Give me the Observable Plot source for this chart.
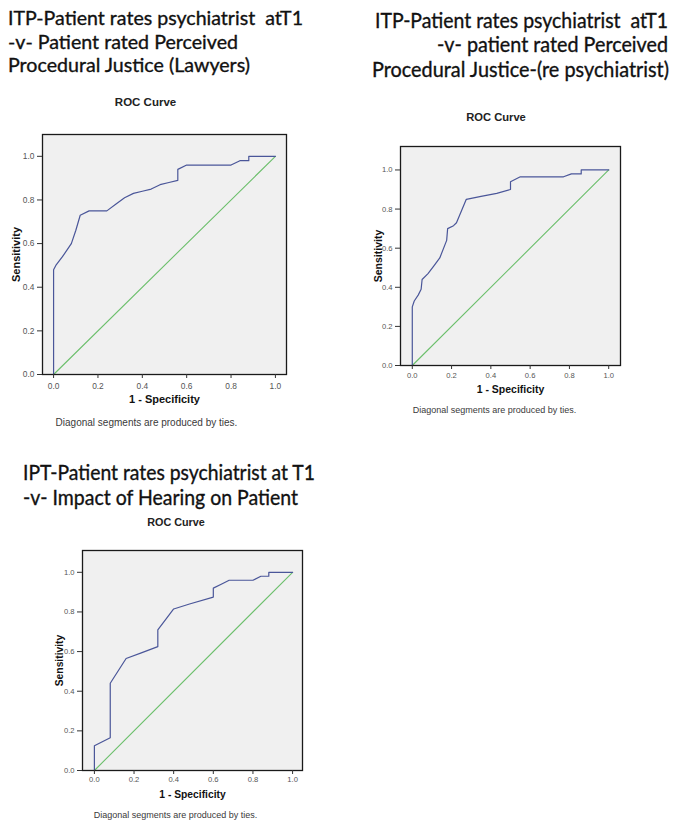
<!DOCTYPE html>
<html>
<head>
<meta charset="utf-8">
<script src="https://cdn.jsdelivr.net/npm/d3@7"></script>
<script src="https://cdn.jsdelivr.net/npm/@observablehq/plot@0.6"></script>
<style>
  html, body { margin: 0; padding: 0; background: #fff; }
  #page { position: relative; width: 685px; height: 840px; overflow: hidden; background: #fff; }
  .tl { position: absolute; white-space: pre; font-family: Lato, "Open Sans", sans-serif; line-height: 1; color: #111; transform-origin: 0 0; -webkit-text-stroke: 0.35px #111; }
  .lbl { position: absolute; white-space: pre; font-family: "Liberation Sans", Arial, sans-serif; line-height: 1; transform: translate(-50%, -50%); }
  .roc { font-weight: bold; color: #222; }
  .cap { color: #3a3a3a; }
  .panel { position: absolute; }
  .panel svg { overflow: visible; }
  g[aria-label="x-axis tick label"], g[aria-label="y-axis tick label"] { fill: #555; }
  g[aria-label="x-axis label"], g[aria-label="y-axis label"] { font-weight: bold; fill: #111; }
  g[aria-label="x-axis tick"], g[aria-label="y-axis tick"] { stroke: #333; }
</style>
</head>
<body>
<div id="page"></div>
<script>
// ---------- data ----------
const xTicks = [0, 0.2, 0.4, 0.6, 0.8, 1.0];
const yTicks = [0, 0.2, 0.4, 0.6, 0.8, 1.0];
const chanceX = [0, 1];
const chanceY = [0, 1];

// Panel 1: ITP vs Perceived Procedural Justice (Lawyers)
const p1Fpr = [0, 0, 0.01, 0.04, 0.08, 0.10, 0.12, 0.16, 0.24, 0.28, 0.32, 0.36, 0.40, 0.44, 0.48, 0.52, 0.56, 0.56, 0.60, 0.80, 0.84, 0.88, 0.88, 1.0];
const p1Tpr = [0, 0.48, 0.50, 0.54, 0.60, 0.66, 0.73, 0.75, 0.75, 0.78, 0.81, 0.83, 0.84, 0.85, 0.87, 0.88, 0.89, 0.94, 0.96, 0.96, 0.98, 0.98, 1.0, 1.0];

// Panel 2: ITP vs Perceived Procedural Justice (re psychiatrist)
const p2Fpr = [0, 0, 0.01, 0.03, 0.045, 0.05, 0.08, 0.11, 0.14, 0.175, 0.18, 0.21, 0.225, 0.275, 0.35, 0.43, 0.50, 0.50, 0.55, 0.77, 0.81, 0.86, 0.86, 1.0];
const p2Tpr = [0, 0.30, 0.33, 0.36, 0.39, 0.44, 0.47, 0.51, 0.55, 0.64, 0.70, 0.715, 0.73, 0.85, 0.865, 0.88, 0.90, 0.94, 0.965, 0.965, 0.98, 0.98, 1.0, 1.0];

// Panel 3: IPT vs Impact of Hearing on Patient
const p3Fpr = [0, 0, 0.08, 0.08, 0.16, 0.24, 0.32, 0.32, 0.40, 0.48, 0.60, 0.60, 0.64, 0.68, 0.80, 0.84, 0.88, 0.88, 1.0];
const p3Tpr = [0, 0.125, 0.165, 0.44, 0.565, 0.595, 0.625, 0.71, 0.815, 0.84, 0.875, 0.92, 0.94, 0.96, 0.96, 0.98, 0.98, 1.0, 1.0];

// texts
const p1Title = ["ITP-Patient rates psychiatrist  atT1", "-v- Patient rated Perceived", "Procedural Justice (Lawyers)"];
const p2Title = ["ITP-Patient rates psychiatrist  atT1", "-v- patient rated Perceived", "Procedural Justice-(re psychiatrist)"];
const p3Title = ["IPT-Patient rates psychiatrist at T1", "-v- Impact of Hearing on Patient"];
const chartTitle = "ROC Curve";
const captionText = "Diagonal segments are produced by ties.";
const xLabel = "1 - Specificity";
const yLabel = "Sensitivity";

// ---------- layout ----------
const page = document.getElementById("page");

function addTitleLine(text, left, right, base, fs) {
  const d = document.createElement("div");
  d.className = "tl";
  d.textContent = text;
  d.style.fontSize = fs + "px";
  d.style.left = left + "px";
  d.style.top = (base - 0.89 * fs) + "px";
  page.appendChild(d);
  const w = d.getBoundingClientRect().width;
  d.style.transform = `scaleX(${(right - left) / w})`;
}

function addLabel(text, cls, cx, cy, fs) {
  const d = document.createElement("div");
  d.className = "lbl " + cls;
  d.textContent = text;
  d.style.fontSize = fs + "px";
  d.style.left = cx + "px";
  d.style.top = cy + "px";
  page.appendChild(d);
}

function rocPanel(o) {
  const curve = o.fpr.map((x, i) => ({x, y: o.tpr[i]}));
  const chance = chanceX.map((x, i) => ({x, y: chanceY[i]}));
  const chart = Plot.plot({
    width: o.width, height: o.height,
    marginLeft: o.ml, marginRight: o.mr, marginTop: o.mt, marginBottom: o.mb,
    style: {fontFamily: "'Liberation Sans', Arial, sans-serif", fontSize: o.tickFs + "px", background: "transparent"},
    x: {domain: o.xDomain},
    y: {domain: o.yDomain},
    marks: [
      Plot.frame({fill: "#f0f0f0", stroke: "none"}),
      Plot.line(chance, {x: "x", y: "y", stroke: "#6cbf6c", strokeWidth: 1.1}),
      Plot.line(curve, {x: "x", y: "y", stroke: "#4a5699", strokeWidth: 1.2}),
      Plot.frame({stroke: "#1a1a1a", strokeWidth: 1.3}),
      Plot.axisX({ticks: xTicks, tickFormat: d3.format(".1f"), tickSize: 4, tickPadding: o.xPad,
        label: xLabel, labelAnchor: "center", labelOffset: o.xLabelOffset, labelArrow: "none", fontSize: o.tickFs}),
      Plot.axisY({ticks: yTicks, tickFormat: d3.format(".1f"), tickSize: 5, tickPadding: 3,
        label: yLabel, labelAnchor: "center", labelOffset: o.yLabelOffset, labelArrow: "none", fontSize: o.tickFs})
    ]
  });
  chart.querySelectorAll('g[aria-label="x-axis label"], g[aria-label="y-axis label"]').forEach(g => {
    g.setAttribute("font-size", o.labelFs);
    g.querySelectorAll("text").forEach(t => t.setAttribute("font-size", o.labelFs));
  });
  const wrap = document.createElement("div");
  wrap.className = "panel";
  wrap.style.left = o.left + "px";
  wrap.style.top = o.top + "px";
  wrap.appendChild(chart);
  page.appendChild(wrap);
}

// Panel 1
addTitleLine(p1Title[0], 8, 303, 25, 20);
addTitleLine(p1Title[1], 8, 238, 48.5, 20);
addTitleLine(p1Title[2], 8, 250, 72, 20);
addLabel(chartTitle, "roc", 145.5, 102.5, 11.5);
rocPanel({fpr: p1Fpr, tpr: p1Tpr, left: 0, top: 120, width: 300, height: 300,
  ml: 42, mr: 14, mt: 14, mb: 46, xDomain: [-0.05, 1.05], yDomain: [0, 1.1],
  tickFs: 8.4, labelFs: 11, xPad: 5, xLabelOffset: 28, yLabelOffset: 30});
addLabel(captionText, "cap", 146.5, 423, 10);

// Panel 2
addTitleLine(p2Title[0], 375, 668, 28, 21);
addTitleLine(p2Title[1], 437, 668, 52, 21);
addTitleLine(p2Title[2], 372, 669, 76.5, 21);
addLabel(chartTitle, "roc", 496, 117.5, 11.2);
rocPanel({fpr: p2Fpr, tpr: p2Tpr, left: 350, top: 132, width: 290, height: 280,
  ml: 50, mr: 20, mt: 14, mb: 47, xDomain: [-0.06, 1.06], yDomain: [0, 1.12],
  tickFs: 7.6, labelFs: 10.5, xPad: 3, xLabelOffset: 27.5, yLabelOffset: 26});
addLabel(captionText, "cap", 494.5, 410, 9);

// Panel 3
addTitleLine(p3Title[0], 23, 315, 480, 21);
addTitleLine(p3Title[1], 23, 298, 505, 21);
addLabel(chartTitle, "roc", 176, 522, 10.8);
rocPanel({fpr: p3Fpr, tpr: p3Tpr, left: 40, top: 536, width: 280, height: 280,
  ml: 42, mr: 18, mt: 14, mb: 46, xDomain: [-0.06, 1.05], yDomain: [0, 1.11],
  tickFs: 7.6, labelFs: 10.3, xPad: 2.5, xLabelOffset: 27.5, yLabelOffset: 27});
addLabel(captionText, "cap", 175.5, 815, 9);
</script>
</body>
</html>
